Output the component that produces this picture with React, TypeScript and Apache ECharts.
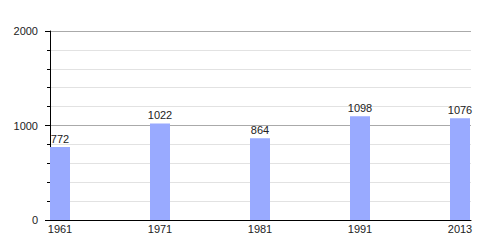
import React, { useEffect, useRef } from "react";
import * as echarts from "echarts";

const years = ["1961", "1971", "1981", "1991", "2013"];
const population = [772, 1022, 864, 1098, 1076];
const yTicks = [0, 1000, 2000];

export default function App() {
  const ref = useRef<HTMLDivElement>(null);
  useEffect(() => {
    const chart = echarts.init(ref.current!, null, { renderer: "svg" });
    const font = "Liberation Sans, Arial, sans-serif";
    chart.setOption({
      animation: false,
      grid: { left: 50, right: 29, top: 31, bottom: 30, containLabel: false },
      xAxis: {
        type: "value",
        min: -0.1,
        max: 4.11,
        axisLine: { show: true, onZero: false, lineStyle: { color: "#000", width: 1 } },
        axisTick: { show: false },
        splitLine: { show: false },
        axisLabel: {
          customValues: years.map((_, i) => i),
          formatter: (v: number) => years[Math.round(v)] ?? "",
          color: "#222",
          fontFamily: font,
          fontSize: 11,
          margin: 3,
        },
      },
      yAxis: {
        type: "value",
        min: 0,
        max: 2000,
        interval: 1000,
        axisLine: { show: true, onZero: false, lineStyle: { color: "#000", width: 1 } },
        axisTick: { show: true, length: 5, lineStyle: { color: "#000" } },
        minorTick: { show: true, splitNumber: 5, length: 3, lineStyle: { color: "#000" } },
        splitLine: { show: true, lineStyle: { color: "#aaa", width: 1 } },
        minorSplitLine: { show: true, lineStyle: { color: "#e2e2e2", width: 1 } },
        axisLabel: {
          customValues: yTicks,
          formatter: (v: number) => String(v),
          color: "#222",
          fontFamily: font,
          fontSize: 11,
          margin: 12,
        },
      },
      series: [
        {
          type: "bar",
          data: population.map((v, i) => [i, v]),
          barWidth: 20,
          itemStyle: { color: "#99aaff" },
          label: {
            show: true,
            position: "top",
            distance: 3,
            color: "#222",
            fontFamily: font,
            fontSize: 11,
            formatter: (p: any) => String(p.value[1]),
          },
        },
      ],
    });
    return () => chart.dispose();
  }, []);
  return <div ref={ref} style={{ width: 500, height: 250, position: "absolute", left: 0, top: 0 }} />;
}
